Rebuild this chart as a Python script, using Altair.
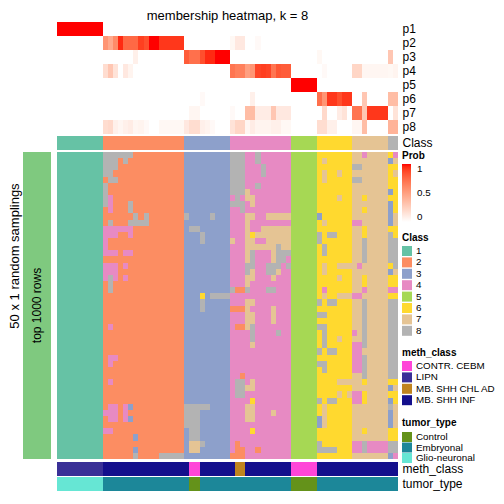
import altair as alt
import pandas as pd

FONT = "Liberation Sans"
TITLE = ["membership heatmap, k = 8"]
LEFT_TITLE = ["50 x 1 random samplings"]
ROW_TITLE = ["top 1000 rows"]

class_labels = ["1", "2", "3", "4", "5", "6", "7", "8"]
class_colors = ["#66C2A5", "#FC8D62", "#8DA0CB", "#E78AC3",
                "#A6D854", "#FFD92F", "#E5C494", "#B3B3B3"]
class_sizes = [9, 16, 9, 12, 5, 7, 7, 2]

p_labels = ["p1", "p2", "p3", "p4", "p5", "p6", "p7", "p8"]
p1 = [1.0] * 9 + [0.0] * 16 + [0.0] * 9 + [0.0] * 12 + [0.0] * 5 + [0.0] * 7 + [0.0] * 7 + [0.0] * 2
p2 = ([0.0] * 9
      + [0.55, 0.45, 0.60, 0.95, 0.75, 0.75, 0.75, 0.90, 0.85, 1.00, 1.00, 0.92, 0.92, 0.92, 0.92, 0.92]
      + [0.0] * 9
      + [0.04, 0.12, 0.12, 0.0, 0.0, 0.03, 0.0, 0.0, 0.0, 0.0, 0.0, 0.0]
      + [0.0] * 5 + [0.0] * 7 + [0.0] * 7 + [0.0] * 2)
p3 = ([0.0] * 9
      + [0.0, 0.0, 0.0, 0.0, 0.0, 0.0, 0.08, 0.0, 0.0, 0.0, 0.0, 0.0, 0.0, 0.0, 0.0, 0.0]
      + [0.80, 0.72, 0.72, 0.85, 0.95, 0.95, 1.00, 1.00, 1.00]
      + [0.0] * 12 + [0.0] * 5
      + [0.04, 0.0, 0.0, 0.0, 0.0, 0.0, 0.0]
      + [0.0] * 7
      + [0.30, 0.0])
p4 = ([0.0] * 9
      + [0.18, 0.30, 0.15, 0.0, 0.12, 0.06, 0.0, 0.0, 0.0, 0.0, 0.0, 0.0, 0.0, 0.0, 0.0, 0.0]
      + [0.0] * 9
      + [0.70, 0.65, 0.65, 0.50, 0.55, 0.88, 0.90, 0.88, 0.70, 0.82, 0.80, 0.80]
      + [0.0] * 5
      + [0.0, 0.03, 0.0, 0.0, 0.0, 0.0, 0.0]
      + [0.22, 0.22, 0.05, 0.05, 0.05, 0.05, 0.05]
      + [0.04, 0.06])
p5 = [0.0] * 9 + [0.0] * 16 + [0.0] * 9 + [0.0] * 12 + [1.0] * 5 + [0.0] * 7 + [0.0] * 7 + [0.0] * 2
p6 = ([0.0] * 9 + [0.0] * 16
      + [0.0, 0.0, 0.0, 0.03, 0.0, 0.0, 0.0, 0.0, 0.0]
      + [0.0, 0.0, 0.0, 0.0, 0.08, 0.0, 0.0, 0.0, 0.0, 0.0, 0.0, 0.0]
      + [0.0] * 5
      + [0.72, 0.55, 0.92, 0.92, 0.85, 0.92, 0.92]
      + [0.0, 0.0, 0.30, 0.0, 0.0, 0.0, 0.0]
      + [0.35, 0.35])
p7 = ([0.0] * 9 + [0.0] * 16
      + [0.0, 0.05, 0.05, 0.0, 0.0, 0.0, 0.0, 0.0, 0.0]
      + [0.03, 0.0, 0.0, 0.35, 0.35, 0.10, 0.10, 0.10, 0.30, 0.12, 0.12, 0.12]
      + [0.0] * 5
      + [0.0, 0.20, 0.0, 0.0, 0.10, 0.15, 0.0]
      + [0.70, 0.70, 0.30, 0.92, 0.92, 0.92, 0.92]
      + [0.0, 0.15])
p8 = ([0.0] * 9
      + [0.18, 0.20, 0.08, 0.05, 0.08, 0.10, 0.05, 0.06, 0.03, 0.0, 0.0, 0.04, 0.04, 0.04, 0.04, 0.04]
      + [0.12, 0.18, 0.18, 0.08, 0.06, 0.03, 0.0, 0.0, 0.0]
      + [0.15, 0.22, 0.22, 0.05, 0.10, 0.06, 0.06, 0.06, 0.08, 0.08, 0.04, 0.04]
      + [0.0] * 5
      + [0.18, 0.18, 0.08, 0.08, 0.0, 0.0, 0.0]
      + [0.05, 0.05, 0.35, 0.0, 0.0, 0.0, 0.0]
      + [0.40, 0.40])
p_values = [p1, p2, p3, p4, p5, p6, p7, p8]

# 50 random samplings x 67 samples: predicted class, groups separated by "|"
membership_rows = [
    "111111111|8888882222222222|333333333|888448444444|55555|6666666|7747777|64",
    "111111111|8882822222222222|333333333|888448444444|55555|6766666|7777777|37",
    "111111111|8882222222222222|333333333|888444844444|55555|6666666|8877777|66",
    "111111111|8822222222222222|333333333|888444844444|55555|6766766|7777777|67",
    "111111111|2882222222222222|333333333|888444444444|55555|6766666|8877777|66",
    "111111111|8222222222222222|333333333|888448444444|55555|6666666|7777777|66",
    "111111111|8222222222222222|333333333|888744444444|55555|6666666|7777777|36",
    "111111111|8422222222222222|333333333|484774444444|55555|6666766|7767777|66",
    "111111111|8422282222222222|333333333|888474444444|55555|6666666|7777777|36",
    "111111111|2422282222222222|333333333|448444444444|55555|6666666|7767777|36",
    "111111111|2222228282222222|833338333|444774477777|55555|3666666|7777777|37",
    "111111111|2822288882222222|333333333|444744444444|55555|6766666|4477777|37",
    "111111111|4444442222222222|388333333|444744777777|55555|6666666|7767777|66",
    "111111111|4442242222222222|333833333|444767777777|55555|8688666|7767777|86",
    "111111111|4222222222222222|333833333|744774477777|55555|8666666|7787777|88",
    "111111111|4222222222222222|333333333|444777777877|55555|6866666|7787777|88",
    "111111111|4442442222222222|333333333|444784447888|55555|6866666|7787777|88",
    "111111111|2222222222222222|333333333|444784447884|55555|6666666|7787777|88",
    "111111111|4442422222222222|333333333|444884488848|55555|6766777|7477777|68",
    "111111111|4442222222222222|333333333|444874488744|55555|6766666|7777777|37",
    "111111111|4842422222222222|333333333|444774447444|55555|6666766|7767777|66",
    "111111111|2822222222222222|333333333|444744444444|55555|6666666|7767777|66",
    "111111111|2822222222222222|333333333|822844488444|55555|6466666|7747777|44",
    "111111111|2222222222222222|333638888|444444444444|55555|6766777|4477777|66",
    "111111111|2222222222222222|333833333|444774444444|55555|8688666|7787777|88",
    "111111111|2222222222222222|333833333|222744447444|55555|6666666|7787777|88",
    "111111111|2222222222222222|333333333|444774447444|55555|8866666|7787777|88",
    "111111111|2222222222222222|333333333|444774447444|55555|6666666|7787777|88",
    "111111111|2422222222222222|333333333|422784444444|55555|8866666|7787777|88",
    "111111111|2222222222222222|333333333|444484444844|55555|6866666|4787777|88",
    "111111111|2222222222222222|333333333|444484444444|55555|6866766|7787777|88",
    "111111111|2222222222222222|333333333|444474444444|55555|6866666|4487777|88",
    "111111111|2222222222222222|333333333|444444444444|55555|8688666|4477777|88",
    "111111111|2442222222222222|333333333|444444444444|55555|6666666|4487777|88",
    "111111111|2422222222222222|333333333|444444444444|55555|8866666|4487777|88",
    "111111111|2222222222222222|333333333|444444444444|55555|6866666|4487777|88",
    "111111111|2222222222222222|333333333|442444444444|55555|6666666|7787777|88",
    "111111111|2422222222222222|333333333|488474444444|55555|6666777|7767777|66",
    "111111111|2222222222222222|333333333|488774444444|55555|6666666|7777777|37",
    "111111111|2222222222222222|333333333|488444444444|55555|6666767|4467777|66",
    "111111111|2222222222222222|333333333|444464444444|55555|8688666|4467777|36",
    "111111111|2442432222222222|888883333|444774444444|55555|6766666|7777777|87",
    "111111111|4442422222222222|888333333|444774447444|55555|6766666|7777777|37",
    "111111111|2442432222222222|888333333|444774444444|55555|3766666|7777777|37",
    "111111111|2222222222222222|888333333|444444444444|55555|3766666|7777777|37",
    "111111111|4422222222222222|388333333|444464444444|55555|6666666|7767777|66",
    "111111111|2222223222222222|388333333|444444444444|55555|6666666|7777777|66",
    "111111111|2222222222222222|377833333|424444444444|55555|8666666|4484444|88",
    "111111111|2222223222222222|377333333|422442444444|55555|8888666|4484444|88",
    "111111111|2222228222288888|333333333|222444444444|55555|6666666|7777777|34",
]

meth_levels = ["CONTR. CEBM", "LIPN", "MB. SHH CHL AD", "MB. SHH INF"]
meth_colors = ["#FF45D8", "#3A3097", "#C0841F", "#140F8C"]
meth_runs = [("LIPN", 9), ("MB. SHH INF", 17), ("CONTR. CEBM", 2), ("MB. SHH INF", 7),
             ("MB. SHH CHL AD", 2), ("MB. SHH INF", 9), ("CONTR. CEBM", 5), ("MB. SHH INF", 16)]

tumor_levels = ["Control", "Embryonal", "Glio-neuronal"]
tumor_colors = ["#64921A", "#1C8799", "#66E6D4"]
tumor_runs = [("Glio-neuronal", 9), ("Embryonal", 17), ("Control", 2), ("Embryonal", 18),
              ("Control", 5), ("Embryonal", 16)]

# ---------------------------------------------------------------- tables
n_cols = sum(class_sizes)
n_rows = len(membership_rows)
col_class = [lab for lab, n in zip(class_labels, class_sizes) for _ in range(n)]
meth_class = [lab for lab, n in meth_runs for _ in range(n)]
tumor_type = [lab for lab, n in tumor_runs for _ in range(n)]

prob_df = pd.DataFrame([
    {"col": j, "col_end": j + 1, "prow": lab, "prob": vals[j]}
    for lab, vals in zip(p_labels, p_values) for j in range(n_cols)
])
class_df = pd.DataFrame({"col": range(n_cols), "col_end": range(1, n_cols + 1),
                         "cls": col_class, "lab": "Class"})
rows = [r.replace("|", "") for r in membership_rows]
main_df = pd.DataFrame([
    {"col": j, "col_end": j + 1, "row": i, "row_end": i + 1, "cls": rows[i][j]}
    for i in range(n_rows) for j in range(n_cols)
])
meth_df = pd.DataFrame({"col": range(n_cols), "col_end": range(1, n_cols + 1),
                        "meth": meth_class, "lab": "meth_class"})
tumor_df = pd.DataFrame({"col": range(n_cols), "col_end": range(1, n_cols + 1),
                         "tumor": tumor_type, "lab": "tumor_type"})

# ---------------------------------------------------------------- layout (plot-area pixels)
P_RANGE = [1, 113]
CLASS_RANGE = [115, 129]
MAIN_RANGE = [131, 438]
METH_RANGE = [441, 455]
TUMOR_RANGE = [456, 470]

X = alt.X("col:Q", scale=alt.Scale(domain=[0, n_cols], nice=False, zero=False, round=True),
          axis=None)
X2 = alt.X2("col_end:Q")


def right_axis():
    return alt.Axis(orient="right", domain=False, ticks=False, grid=False, labelPadding=4,
                    labelFontSize=12, labelFont=FONT, labelColor="black", title=None)


LEG = dict(orient="none", direction="vertical", titleFont=FONT, titleFontSize=10,
           titleFontWeight="bold", titleColor="black", labelFont=FONT, labelFontSize=9.8,
           labelColor="black", padding=0, labelLimit=300)
SYM = dict(symbolType="square", symbolSize=100, symbolStrokeWidth=0, symbolOpacity=1,
           labelOffset=4)
LEG_X = 345

prob_layer = alt.Chart(prob_df).mark_rect().encode(
    x=X, x2=X2,
    y=alt.Y("prow:N", sort=p_labels,
            scale=alt.Scale(domain=p_labels, range=P_RANGE, paddingInner=0, paddingOuter=0),
            axis=right_axis()),
    color=alt.Color("prob:Q",
                    scale=alt.Scale(domain=[0, 1], range=["#FFFFFF", "#FF0000"], interpolate="lab"),
                    legend=alt.Legend(title="Prob", legendX=LEG_X, legendY=130, type="gradient",
                                      gradientLength=58, gradientThickness=9,
                                      gradientStrokeWidth=0, values=[0, 0.5, 1], format="~g",
                                      titlePadding=3, labelOffset=6, labelBaseline="middle",
                                      **LEG)),
)

class_scale = alt.Scale(domain=class_labels, range=class_colors)

class_layer = alt.Chart(class_df).mark_rect().encode(
    x=X, x2=X2,
    y=alt.Y("lab:N", scale=alt.Scale(range=CLASS_RANGE, paddingInner=0, paddingOuter=0),
            axis=right_axis()),
    color=alt.Color("cls:N", scale=class_scale,
                    legend=alt.Legend(title="Class", legendX=LEG_X, legendY=212, titlePadding=3,
                                      rowPadding=1.4, **SYM, **LEG)),
)

main_layer = alt.Chart(main_df).mark_rect().encode(
    x=X, x2=X2,
    y=alt.Y("row:Q", scale=alt.Scale(domain=[0, n_rows], range=MAIN_RANGE, nice=False,
                                     zero=False, round=True),
            axis=None),
    y2=alt.Y2("row_end:Q"),
    color=alt.Color("cls:N", scale=class_scale, legend=None),
)

meth_layer = alt.Chart(meth_df).mark_rect().encode(
    x=X, x2=X2,
    y=alt.Y("lab:N", scale=alt.Scale(range=METH_RANGE, paddingInner=0, paddingOuter=0),
            axis=right_axis()),
    color=alt.Color("meth:N", scale=alt.Scale(domain=meth_levels, range=meth_colors),
                    legend=alt.Legend(title="meth_class", legendX=LEG_X, legendY=327,
                                      titlePadding=3, rowPadding=1.4, **SYM, **LEG)),
)

tumor_layer = alt.Chart(tumor_df).mark_rect().encode(
    x=X, x2=X2,
    y=alt.Y("lab:N", scale=alt.Scale(range=TUMOR_RANGE, paddingInner=0, paddingOuter=0),
            axis=right_axis()),
    color=alt.Color("tumor:N", scale=alt.Scale(domain=tumor_levels, range=tumor_colors),
                    legend=alt.Legend(title="tumor_type", legendX=LEG_X, legendY=397,
                                      titlePadding=4, rowPadding=0.5, **SYM, **LEG)),
)

bar_layer = alt.Chart(pd.DataFrame({"t": ROW_TITLE})).mark_rect(color="#7FC97F").encode(
    x=alt.value(-34), x2=alt.value(-6), y=alt.value(MAIN_RANGE[0]), y2=alt.value(MAIN_RANGE[1])
)

row_title = alt.Chart(pd.DataFrame({"t": ROW_TITLE})).mark_text(
    angle=270, font=FONT, fontSize=12, color="black", align="center", baseline="middle"
).encode(x=alt.value(-20), y=alt.value((MAIN_RANGE[0] + MAIN_RANGE[1]) / 2), text="t:N")

left_title = alt.Chart(pd.DataFrame({"t": LEFT_TITLE})).mark_text(
    angle=270, font=FONT, fontSize=13, color="black", align="center", baseline="middle"
).encode(x=alt.value(-42), y=alt.value(235), text="t:N")

main_title = alt.Chart(pd.DataFrame({"t": TITLE})).mark_text(
    font=FONT, fontSize=13, color="black", align="center", baseline="alphabetic"
).encode(x=alt.value(170.5), y=alt.value(-1), text="t:N")

chart = alt.layer(
    prob_layer, class_layer, main_layer, meth_layer, tumor_layer,
    bar_layer, row_title, left_title, main_title,
).resolve_scale(
    y="independent", color="independent"
).properties(
    width=341, height=470,
    padding={"left": 49, "top": 13, "right": 98, "bottom": 1},
    autosize=alt.AutoSizeParams(type="none"),
).configure_view(stroke=None)

chart.save("out.html", embed_options={"renderer": "svg", "actions": False})
